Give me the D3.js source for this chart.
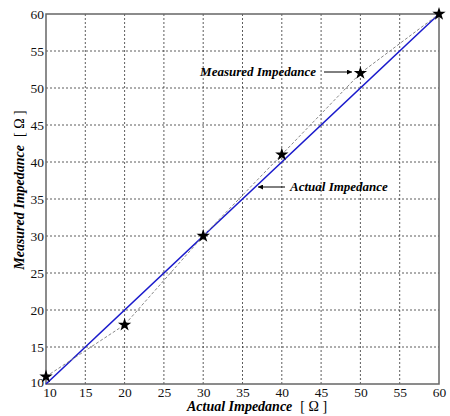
<!DOCTYPE html>
<html>
<head>
<meta charset="utf-8">
<script src="https://cdn.jsdelivr.net/npm/d3@7"></script>
<style>
  body { margin: 0; background: #fff; }
</style>
</head>
<body>
<div id="chart"></div>
<script>
// data
let actual = [10, 20, 30, 40, 50, 60],
    measured = [11, 18, 30, 41, 52, 60],
    idealLine = [10, 60],
    xTicks = [10, 15, 20, 25, 30, 35, 40, 45, 50, 55, 60],
    yTicks = [10, 15, 20, 25, 30, 35, 40, 45, 50, 55, 60];

let serif = "Liberation Serif, DejaVu Serif, serif";

let width = 450, height = 416,
    margin = { top: 14, right: 11, bottom: 32, left: 46 };

let svg = d3.select('#chart').append('svg')
    .attr('width', width)
    .attr('height', height)
    .style('font-family', serif);

let x = d3.scaleLinear().domain([10, 60]).range([margin.left, width - margin.right]),
    y = d3.scaleLinear().domain([10, 60]).range([height - margin.bottom, margin.top]);

// grid
let grid = svg.append('g').attr('class', 'grid');
grid.selectAll('.vx').data(xTicks.slice(1, -1)).enter()
    .append('line')
    .attr('x1', d => x(d)).attr('x2', d => x(d))
    .attr('y1', y(10)).attr('y2', y(60))
    .attr('stroke', '#333').attr('stroke-width', 0.8)
    .attr('stroke-dasharray', '2,2');
grid.selectAll('.hy').data(yTicks.slice(1, -1)).enter()
    .append('line')
    .attr('y1', d => y(d)).attr('y2', d => y(d))
    .attr('x1', x(10)).attr('x2', x(60))
    .attr('stroke', '#333').attr('stroke-width', 0.8)
    .attr('stroke-dasharray', '2,2');

// box
svg.append('rect')
    .attr('x', x(10)).attr('y', y(60))
    .attr('width', x(60) - x(10)).attr('height', y(10) - y(60))
    .attr('fill', 'none').attr('stroke', '#666').attr('stroke-width', 1.5);

// axes (labels only, box drawn above)
let xAxis = svg.append('g')
    .attr('transform', 'translate(0,' + y(10) + ')')
    .call(d3.axisBottom(x).tickValues(xTicks).tickSize(0).tickPadding(3));
let yAxis = svg.append('g')
    .attr('transform', 'translate(' + x(10) + ',0)')
    .call(d3.axisLeft(y).tickValues(yTicks).tickSize(0).tickPadding(2));
[xAxis, yAxis].forEach(function(a) {
    a.attr('font-family', null).attr('font-size', null)
        .style('font-family', serif).style('font-size', '13.5px');
    a.select('.domain').remove();
    a.selectAll('text').attr('fill', '#111');
});
// nudge the corner "10" labels apart a bit
yAxis.selectAll('.tick text').filter(d => d == 10).attr('dy', '0.15em');
xAxis.selectAll('.tick text').filter(d => d == 10).attr('dx', '0.25em');

// ideal line
svg.append('line')
    .attr('x1', x(idealLine[0])).attr('y1', y(idealLine[0]))
    .attr('x2', x(idealLine[1])).attr('y2', y(idealLine[1]))
    .attr('stroke', '#1a1acc').attr('stroke-width', 1.6);

// measured line
let pts = actual.map((d, i) => [d, measured[i]]);
svg.append('path')
    .datum(pts)
    .attr('d', d3.line().x(d => x(d[0])).y(d => y(d[1])))
    .attr('fill', 'none')
    .attr('stroke', '#888').attr('stroke-width', 1)
    .attr('stroke-dasharray', '3,2');

// stars
svg.selectAll('.star').data(pts).enter()
    .append('path')
    .attr('d', d3.symbol().type(d3.symbolStar).size(55))
    .attr('transform', d => 'translate(' + x(d[0]) + ',' + y(d[1]) + ')')
    .attr('fill', '#000');

// arrows
let defs = svg.append('defs');
defs.append('marker')
    .attr('id', 'arrow')
    .attr('viewBox', '0 0 10 10')
    .attr('refX', 10).attr('refY', 5)
    .attr('markerWidth', 7).attr('markerHeight', 5)
    .attr('orient', 'auto')
    .append('path').attr('d', 'M0,0L10,5L0,10Z').attr('fill', '#000');

svg.append('line')
    .attr('x1', 324).attr('y1', 72).attr('x2', 352).attr('y2', 72)
    .attr('stroke', '#000').attr('stroke-width', 1)
    .attr('marker-end', 'url(#arrow)');
svg.append('text')
    .attr('x', 316).attr('y', 76)
    .attr('text-anchor', 'end')
    .style('font-size', '13px').style('font-weight', 'bold').style('font-style', 'italic')
    .text('Measured Impedance');

svg.append('line')
    .attr('x1', 285).attr('y1', 187).attr('x2', 258).attr('y2', 187)
    .attr('stroke', '#000').attr('stroke-width', 1)
    .attr('marker-end', 'url(#arrow)');
svg.append('text')
    .attr('x', 290).attr('y', 191)
    .style('font-size', '13px').style('font-weight', 'bold').style('font-style', 'italic')
    .text('Actual Impedance');

// axis titles
let xt = svg.append('text')
    .attr('x', 257).attr('y', 411)
    .attr('text-anchor', 'middle')
    .style('font-size', '14px');
xt.append('tspan').style('font-weight', 'bold').style('font-style', 'italic').text('Actual Impedance');
xt.append('tspan').attr('dx', 8).text('[ Ω ]');

let yt = svg.append('text')
    .attr('transform', 'translate(24,190) rotate(-90)')
    .attr('text-anchor', 'middle')
    .style('font-size', '14px');
yt.append('tspan').style('font-weight', 'bold').style('font-style', 'italic').text('Measured Impedance');
yt.append('tspan').attr('dx', 8).text('[ Ω ]');
</script>
</body>
</html>
